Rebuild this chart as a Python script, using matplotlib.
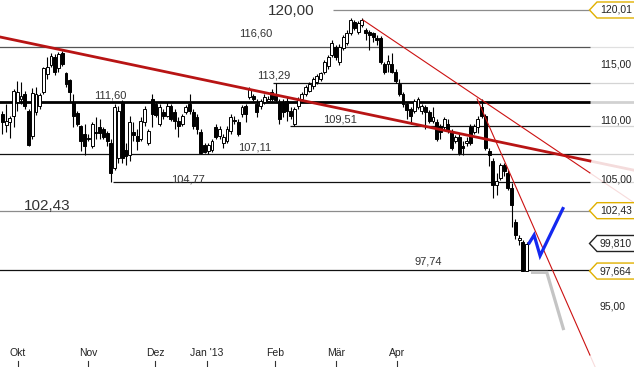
import matplotlib
matplotlib.use("Agg")
import matplotlib.pyplot as plt
from matplotlib.patches import Polygon
import numpy as np

plt.rcParams['font.family'] = ['Liberation Sans', 'DejaVu Sans']

# ---------------- data ----------------
opens = [110.57,109.62,109.88,110.4,111.61,111.87,112.3,110.83,108.69,110.74,
         111.26,112.48,114.06,114.87,115.6,114.6,116.04,114.2,113.53,111.61,
         110.66,109.54,108.86,108.51,107.76,109.03,109.45,109.28,108.94,108.01,
         105.93,106.76,111.61,107.42,107.0,109.03,108.69,108.43,109.88,108.01,
         111.87,111.43,109.71,110.74,110.4,111.26,110.74,109.97,109.71,110.74,
         111.43,110.74,110.31,109.03,107.84,107.34,107.42,109.45,108.69,108.01,
         108.26,109.11,110.05,109.88,110.57,111.26,112.04,112.13,111.43,111.26,
         111.61,111.7,112.48,112.3,111.61,111.61,111.7,110.83,109.71,111.26,
         111.87,112.3,112.57,113.0,113.35,113.62,114.3,114.78,115.86,116.6,
         115.14,116.5,116.95,117.87,118.9,117.96,118.6,118.14,117.96,117.87,
         117.4,117.4,114.96,114.96,114.96,114.3,113.18,112.3,111.43,111.0,
         110.83,111.17,110.83,111.17,110.74,109.97,109.88,109.54,109.45,109.71,
         109.03,108.18,108.6,107.76,108.01,109.45,109.03,109.45,111.17,110.4,
         107.34,106.51,104.55,105.11,106.18,105.52,104.3,101.5,100.08,99.93,
         97.7]
highs = [110.83,111.43,110.4,112.74,113.44,113.35,112.57,111.0,112.83,112.9,
         112.39,114.7,115.6,116.04,115.9,116.1,116.22,114.3,113.62,112.3,
         110.83,109.62,109.71,108.86,109.88,110.31,110.14,109.45,109.11,108.43,
         111.43,111.26,111.78,108.01,110.4,109.88,109.28,110.31,111.26,109.28,
         112.3,111.61,111.43,111.0,111.61,111.43,111.0,110.31,110.57,111.35,
         112.3,111.0,110.57,109.28,108.01,108.01,108.43,109.71,109.54,108.86,
         109.54,110.57,110.4,110.14,111.35,111.43,112.9,112.3,111.87,111.87,
         112.3,112.13,112.74,113.29,111.87,111.87,112.04,111.17,111.17,112.04,
         112.48,113.09,113.35,113.79,114.06,114.3,115.41,115.86,117.22,116.77,
         116.86,117.68,118.14,119.25,119.07,118.98,119.25,118.3,118.14,117.96,
         117.68,117.6,115.14,115.86,116.04,114.51,113.62,112.48,111.61,111.17,
         111.87,112.04,111.43,111.35,110.91,111.17,110.14,109.71,110.31,110.14,
         109.28,108.77,108.86,108.18,108.6,109.71,109.71,110.4,111.87,110.57,
         107.59,106.76,105.52,106.35,106.35,105.77,104.71,101.73,100.48,100.08,
         99.9]
lows = [108.86,109.03,108.51,109.45,110.83,111.43,111.0,107.76,108.43,110.48,
        111.0,112.3,113.62,114.7,113.97,114.3,114.78,112.9,111.61,109.45,
        109.54,107.34,107.0,108.26,107.59,108.43,108.43,108.43,107.76,104.77,
        105.77,106.35,106.35,106.18,106.51,108.26,107.42,108.26,109.54,107.84,
        109.45,110.31,109.54,110.14,110.31,109.97,109.28,108.6,109.54,110.57,
        110.57,109.28,108.86,107.11,107.2,107.15,107.25,108.43,108.43,107.59,
        108.01,108.86,109.71,108.69,110.31,109.88,111.87,111.7,110.31,111.0,
        111.43,111.61,111.7,111.61,109.71,110.31,109.97,110.14,109.51,111.0,
        111.7,112.13,112.48,112.74,113.18,113.44,114.06,114.51,115.6,115.41,
        114.87,116.31,116.77,117.68,118.14,117.78,118.4,117.22,116.31,117.04,
        116.77,114.96,114.06,114.3,114.2,113.27,112.13,111.17,110.14,109.71,
        110.66,111.0,110.57,109.28,109.8,109.8,108.26,108.43,109.28,108.94,
        107.42,108.01,107.0,107.0,107.76,107.84,108.86,108.94,110.22,107.42,
        106.1,103.49,103.74,104.95,105.27,104.14,101.1,100.16,99.7,97.66,
        97.66]
closes = [109.88,109.97,110.22,112.57,112.48,112.13,111.26,107.92,112.39,112.3,
          112.22,114.6,114.7,115.77,114.3,115.95,114.96,113.18,112.48,110.4,
          109.71,108.18,107.76,108.43,109.71,108.94,108.94,108.6,108.18,105.52,
          111.17,110.83,106.76,106.93,109.88,108.77,108.18,109.97,111.0,109.11,
          110.57,110.48,111.17,110.4,111.26,110.14,109.97,109.54,110.4,111.17,
          110.83,109.54,109.28,107.17,107.25,107.84,108.26,108.6,109.28,108.6,
          109.28,110.31,109.97,108.86,111.17,110.57,112.74,111.87,110.74,111.7,
          112.04,111.87,111.87,111.78,110.14,110.74,110.83,110.4,111.0,111.87,
          112.3,112.92,113.18,113.62,113.88,114.2,115.14,115.68,116.95,115.68,
          116.6,117.5,117.87,119.07,118.3,118.8,119.07,117.87,117.68,117.5,
          117.22,115.14,114.3,115.23,114.3,113.44,112.3,111.43,110.91,110.4,
          111.7,111.87,111.26,110.74,109.97,110.31,108.43,109.03,110.14,109.11,
          107.59,108.6,107.17,107.59,108.26,108.01,109.54,110.14,110.4,107.59,
          107.0,104.55,104.87,106.18,105.68,104.3,102.93,100.48,100.24,97.7,
          99.81]

month_labels = ["Okt", "Nov", "Dez", "Jan '13", "Feb", "Mär", "Apr"]
month_pos = [4.2, 22.9, 40.8, 54.7, 72.8, 89.1, 105.4]

# horizontal levels: value, start index, label
level_values = [120.00, 116.60, 113.29, 111.60, 109.51, 107.11, 104.77, 102.43, 97.74]
level_start = [88.3, -1.0, 72.3, -1.0, 76.8, -1.0, 29.6, -1.0, -1.0]
level_labels = ["120,00", "116,60", "113,29", "111,60", "109,51", "107,11", "104,77", "102,43", "97,74"]

# trend lines (index, price)
trend_thick = [(-0.6, 117.48), (156.9, 106.53)]
trend_peak = [(96.3, 119.07), (156.9, 105.53)]
trend_steep = [(126.8, 111.87), (156.9, 91.4)]
# projections
proj_blue_x = [140.7, 142.0, 143.6, 149.7]
proj_blue_y = [99.85, 100.48, 98.85, 102.6]
proj_grey_x = [141.6, 145.4, 149.8]
proj_grey_y = [97.56, 97.56, 93.33]

# right axis labels
axis_values = ["120,01", "115,00", "110,00", "105,00", "102,43", "99,810", "97,664", "95,00"]
axis_prices = [120.01, 115.0, 110.0, 105.0, 102.43, 99.81, 97.664, 95.0]
axis_tag = ["gold", None, None, None, "gold", "black", "gold", None]

# ---------------- figure ----------------
W, H = 634, 367
fig = plt.figure(figsize=(W / 100, H / 100), dpi=100)
ax = fig.add_axes([0, 0, 1, 1])
ax.set_yscale('log')
XMIN, XMAX = -0.614, 168.68
YMIN, YMAX = 90.54, 120.96
ax.set_xlim(XMIN, XMAX)
ax.set_ylim(YMIN, YMAX)
ax.axis('off')

XEND = 156.9  # where the right label zone starts

# level lines
for v, s in zip(level_values, level_start):
    if v == 111.60:
        c, lw = '#000000', 2.0
    elif v in (120.00, 102.43):
        c, lw = '#8c8c8c', 0.9
    elif v == 116.60:
        c, lw = '#555555', 0.9
    else:
        c, lw = '#111111', 0.9
    ax.plot([s, XEND], [v, v], color=c, lw=lw, zorder=1, solid_capstyle='butt')
    ax.plot([XEND, XMAX], [v, v], color=c, lw=lw, alpha=0.18, zorder=1)

# candles
n = len(closes)
idx = np.arange(n)
o = np.array(opens); h = np.array(highs); l = np.array(lows); c = np.array(closes)
ax.vlines(idx, l, h, color='black', lw=0.8, zorder=3)
up = c >= o
bw = 0.78
bot = np.minimum(o, c)
hei = np.maximum(np.abs(c - o), 0.02)
ax.bar(idx[up], hei[up], bottom=bot[up], width=bw, facecolor='white',
       edgecolor='black', linewidth=0.7, zorder=4)
ax.bar(idx[~up], hei[~up], bottom=bot[~up], width=bw, facecolor='black',
       edgecolor='black', linewidth=0.7, zorder=4)

# trend lines
def extend(p0, p1, x):
    (x0, y0), (x1, y1) = p0, p1
    ly = np.log(y0) + (np.log(y1) - np.log(y0)) * (x - x0) / (x1 - x0)
    return np.exp(ly)

for pts, col, lw in [(trend_thick, '#b81414', 2.0), (trend_peak, '#cc1111', 0.8),
                     (trend_steep, '#cc1111', 0.8)]:
    ax.plot([pts[0][0], pts[1][0]], [pts[0][1], pts[1][1]], color=col, lw=lw, zorder=5)
    ax.plot([pts[1][0], XMAX], [pts[1][1], extend(pts[0], pts[1], XMAX)],
            color=col, lw=lw, alpha=0.15, zorder=5)

ax.plot(proj_grey_x, proj_grey_y, color='#c4c4c4', lw=2.3, zorder=6, solid_joinstyle='miter')
ax.plot(proj_blue_x, proj_blue_y, color='#1428f0', lw=2.3, zorder=6, solid_joinstyle='miter')

# ---------------- overlay (pixels) ----------------
ov = fig.add_axes([0, 0, 1, 1], facecolor='none')
ov.set_xlim(0, W)
ov.set_ylim(H, 0)
ov.axis('off')

def ypix(p):
    return H * (np.log(YMAX) - np.log(p)) / (np.log(YMAX) - np.log(YMIN))

def xpix(i):
    return (i - XMIN) / (XMAX - XMIN) * W

label_pos = {"120,00": (291, 11, 11), "116,60": (256, 33, 8), "113,29": (274, 75, 8),
             "111,60": (110, 96, 8), "109,51": (340, 120, 8), "107,11": (255, 148, 8),
             "104,77": (188, 180, 8), "102,43": (47, 206, 11), "97,74": (428, 262, 8)}
for lab in level_labels:
    x, y, fs = label_pos[lab]
    ov.text(x, y, lab, fontsize=fs, color='#333333', ha='center', va='center', zorder=10)

# right axis tags
for txt, p, tag in zip(axis_values, axis_prices, axis_tag):
    y = ypix(p)
    if tag is not None:
        ec = '#e0b000' if tag == 'gold' else '#222222'
        poly = Polygon([(589.5, y), (597, y - 8), (640, y - 8), (640, y + 8), (597, y + 8)],
                       closed=True, facecolor='white', edgecolor=ec, lw=1.0, zorder=11)
        ov.add_patch(poly)
    ov.text(600, y, txt, fontsize=7.5, color='#222222', ha='left', va='center', zorder=12)

# month labels and ticks
for lab, pos in zip(month_labels, month_pos):
    xp = xpix(pos)
    ov.text(xp, 353, lab, fontsize=7.5, color='#222222', ha='center', va='center')
    ov.plot([xp, xp], [361, 366], color='#333333', lw=0.8)

fig.savefig('out.png', dpi=100)
